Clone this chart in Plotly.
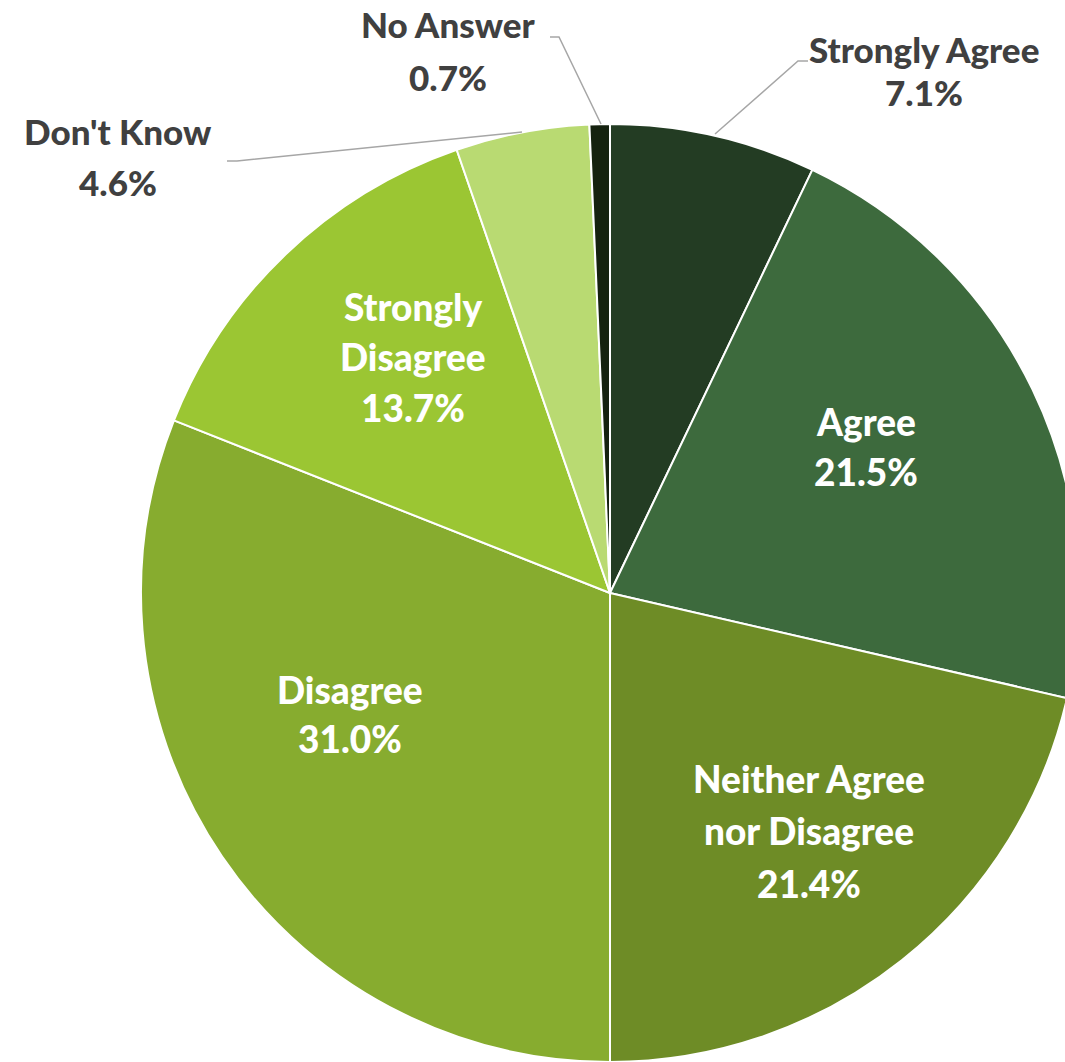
import plotly.graph_objects as go

# Survey responses, clockwise from 12 o'clock
categories = ["Strongly Agree", "Agree", "Neither Agree nor Disagree", "Disagree",
              "Strongly Disagree", "Don't Know", "No Answer"]
shares = [7.1, 21.5, 21.4, 31.0, 13.7, 4.6, 0.7]
label_lines = [["Strongly Agree"], ["Agree"], ["Neither Agree", "nor Disagree"], ["Disagree"],
               ["Strongly", "Disagree"], ["Don't Know"], ["No Answer"]]

colors = ["#233C23", "#3D6A3D", "#6E8C26", "#87AC2F", "#9BC633", "#B9DA72", "#15220F"]

W, H = 1095, 1062
CX, CY, R = 610, 593, 469


def px(x):
    return x / W


def py(y):
    return 1 - y / H


fig = go.Figure(go.Pie(
    labels=categories,
    values=shares,
    sort=False,
    direction="clockwise",
    rotation=0,
    textinfo="none",
    hoverinfo="label+percent",
    marker=dict(colors=colors, line=dict(color="white", width=2)),
    domain=dict(x=[px(CX - R), px(CX + R)], y=[py(CY + R), py(CY - R)]),
    showlegend=False,
))

# label layout per slice: centre x, first-line y, line step, inside the pie?
label_layout = [
    (924, 49, 43.5, False),
    (866, 421, 50, True),
    (809, 778, 52.5, True),
    (350, 689, 49, True),
    (413, 306, 50.8, True),
    (118, 131, 50.5, False),
    (448, 24, 52.5, False),
]

for lines, val, (lx, ly, step, ins) in zip(label_lines, shares, label_layout):
    for i, line in enumerate(lines + [f"{val:.1f}%"]):
        fig.add_annotation(
            x=px(lx), y=py(ly + i * step), xref="paper", yref="paper",
            text=line, showarrow=False, xanchor="center", yanchor="middle",
            font=dict(family="Lato", size=37 if ins else 35,
                      color="white" if ins else "#404040", weight=900),
        )

# leader lines for the labels placed outside the pie
leaders = [
    [(808, 61), (798, 61), (715, 134)],
    [(227, 161), (237, 161), (522, 132)],
    [(550, 37), (559, 37), (601, 124)],
]
for pts in leaders:
    path = "M " + " L ".join(f"{px(x):.5f},{py(y):.5f}" for x, y in pts)
    fig.add_shape(type="path", path=path, xref="paper", yref="paper",
                  line=dict(color="#A6A6A6", width=1.5))

fig.update_layout(
    width=W, height=H,
    margin=dict(l=0, r=0, t=0, b=0),
    paper_bgcolor="white",
    plot_bgcolor="white",
)

fig.write_html("out.html")
